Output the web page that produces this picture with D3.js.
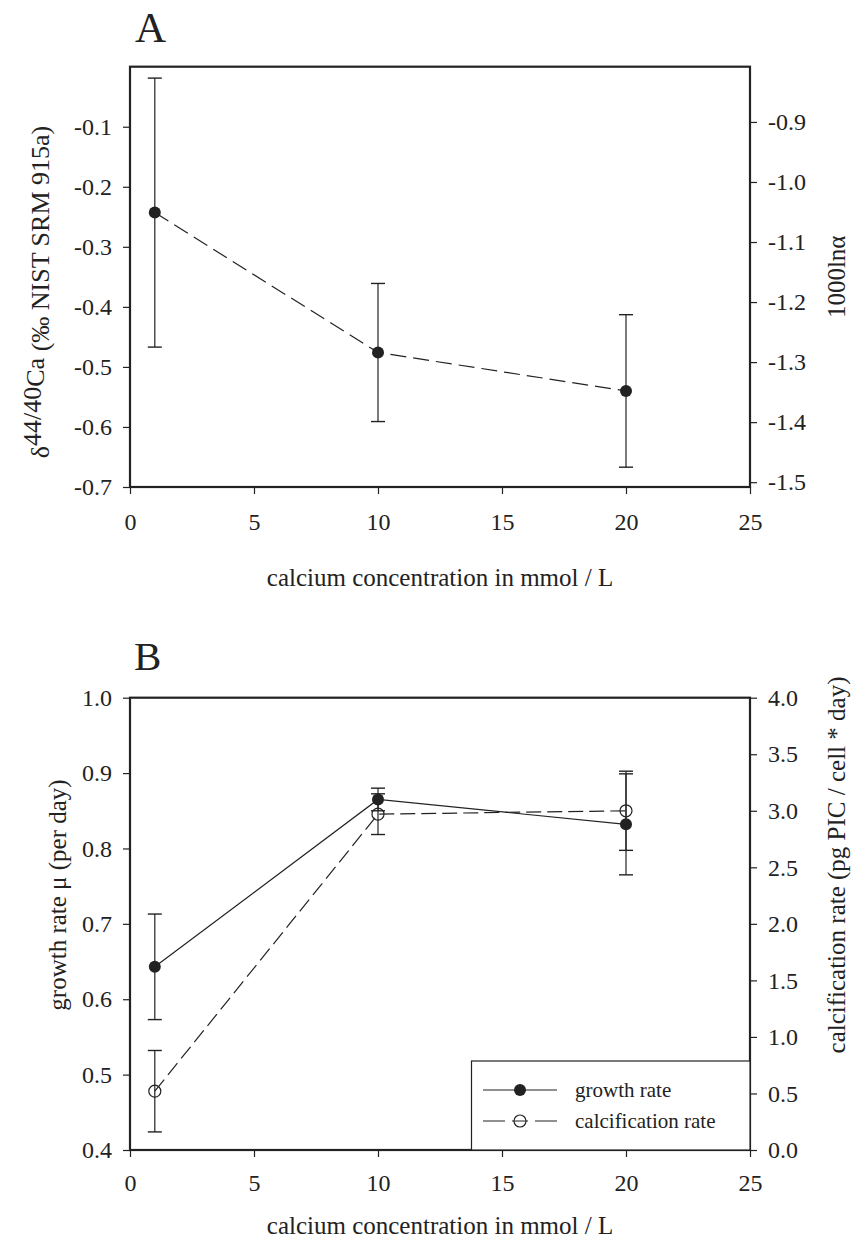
<!DOCTYPE html>
<html>
<head>
<meta charset="utf-8">
<script src="https://cdn.jsdelivr.net/npm/d3@7"></script>
</head>
<body style="margin:0;background:#fff">
<svg id="chart" width="860" height="1240"></svg>
<script>
// ---------- data ----------
const xTicks = [0, 5, 10, 15, 20, 25];

// Panel A
const concA = [1, 10, 20];
const deltaCa = [-0.243, -0.476, -0.540];
const deltaErr = [0.224, 0.115, 0.127];
const leftTicksA = [-0.7, -0.6, -0.5, -0.4, -0.3, -0.2, -0.1];
const rightTicksA = [-1.5, -1.4, -1.3, -1.2, -1.1, -1.0, -0.9];

// Panel B
const concB = [1, 10, 20];
const growth = [0.643, 0.865, 0.832];
const growthErr = [0.070, 0.015, 0.067];
const calc = [0.52, 2.97, 3.0];
const calcErr = [0.36, 0.18, 0.35];
const leftTicksB = [0.4, 0.5, 0.6, 0.7, 0.8, 0.9, 1.0];
const rightTicksB = [0.0, 0.5, 1.0, 1.5, 2.0, 2.5, 3.0, 3.5, 4.0];
const legendLabels = ["growth rate", "calcification rate"];

// ---------- layout ----------
const FONT = '"Liberation Serif", monospace';
const svg = d3.select("#chart");
const X0 = 130, X1 = 750;
const ink = "#222";
const FS = 24;   // tick labels
const LS = 25;   // axis titles

const x = d3.scaleLinear().domain([0, 25]).range([X0, X1]);

function drawFrame(top, bottom, yL, yR, ticksL, ticksR, fmtL, fmtR, padX) {
  const g = svg.append("g");
  const ax = g.append("g").attr("transform", `translate(0,${bottom})`)
    .call(d3.axisBottom(x).tickValues(xTicks).tickSize(7).tickPadding(padX).tickFormat(d3.format("d")));
  const al = g.append("g").attr("transform", `translate(${X0},0)`)
    .call(d3.axisLeft(yL).tickValues(ticksL).tickSize(7).tickPadding(11).tickFormat(fmtL));
  const ar = g.append("g").attr("transform", `translate(${X1},0)`)
    .call(d3.axisRight(yR).tickValues(ticksR).tickSize(7).tickPadding(11).tickFormat(fmtR));
  [ax, al, ar].forEach(a => {
    a.attr("font-family", null).attr("font-size", null);
    a.select(".domain").remove();
    a.selectAll(".tick line").attr("stroke", ink).attr("stroke-width", 1.2);
    a.selectAll(".tick text").attr("font-size", FS).attr("fill", ink).style("font-family", FONT);
  });
  g.append("rect").attr("x", X0).attr("y", top).attr("width", X1 - X0).attr("height", bottom - top)
    .attr("fill", "none").attr("stroke", ink).attr("stroke-width", 2.2);
  return g;
}

const fmt1 = d => d3.format(".1f")(d).replace("−", "-");
const cap = 7;

function errBars(g, xs, vals, errs, ys) {
  xs.forEach((c, i) => {
    const cx = x(c), y1 = ys(vals[i] - errs[i]), y2 = ys(vals[i] + errs[i]);
    g.append("line").attr("x1", cx).attr("x2", cx).attr("y1", y1).attr("y2", y2).attr("stroke", ink).attr("stroke-width", 1.2);
    [y1, y2].forEach(yy => g.append("line").attr("x1", cx - cap).attr("x2", cx + cap).attr("y1", yy).attr("y2", yy).attr("stroke", ink).attr("stroke-width", 1.4));
  });
}

function txt(xp, yp, t, size, anchor) {
  const e = svg.append("text").attr("x", xp).attr("y", yp).attr("font-size", size)
    .attr("fill", ink).style("font-family", FONT).text(t);
  if (anchor) e.attr("text-anchor", anchor);
  return e;
}
function vtxt(cx, cy, size) {
  return svg.append("text").attr("transform", `translate(${cx},${cy}) rotate(-90)`)
    .attr("text-anchor", "middle").attr("dominant-baseline", "central").attr("font-size", size)
    .attr("fill", ink).style("font-family", FONT);
}

// ================= Panel A =================
const topA = 66.7, botA = 487;
const yA = d3.scaleLinear().domain([-0.7, 0.0]).range([botA, topA]);
const yA2 = d3.scaleLinear().domain([-1.508, -0.808]).range([botA, topA]);
drawFrame(topA, botA, yA, yA2, leftTicksA, rightTicksA, fmt1, fmt1, 19);

txt(135, 42, "A", 43);

const gA = svg.append("g");
errBars(gA, concA, deltaCa, deltaErr, yA);
gA.append("path").datum(concA.map((c, i) => [c, deltaCa[i]]))
  .attr("d", d3.line().x(d => x(d[0])).y(d => yA(d[1])))
  .attr("fill", "none").attr("stroke", ink).attr("stroke-width", 1.2).attr("stroke-dasharray", "16,7");
gA.selectAll("circle").data(concA).join("circle")
  .attr("cx", d => x(d)).attr("cy", (d, i) => yA(deltaCa[i])).attr("r", 6).attr("fill", ink);

txt(X0 + (X1 - X0) / 2, botA + 99, "calcium concentration in mmol / L", LS, "middle");
const lblA = vtxt(40, 292, 26);
lblA.append("tspan").text("δ");
lblA.append("tspan").attr("dy", -8).text("44/40");
lblA.append("tspan").attr("dy", 3).text("Ca");
lblA.append("tspan").attr("dy", 5).text(" (‰ NIST SRM 915a)");
vtxt(836, (topA + botA) / 2, LS).text("1000lnα");

// ================= Panel B =================
const topB = 697.7, botB = 1150;
const yB = d3.scaleLinear().domain([0.4, 1.0]).range([botB, topB]);
const yB2 = d3.scaleLinear().domain([0, 4]).range([botB, topB]);
drawFrame(topB, botB, yB, yB2, leftTicksB, rightTicksB, fmt1, fmt1, 17);

txt(134, 670, "B", 41);

const gB = svg.append("g");
errBars(gB, concB, growth, growthErr, yB);
errBars(gB, concB, calc, calcErr, yB2);

gB.append("path").datum(concB.map((c, i) => [c, calc[i]]))
  .attr("d", d3.line().x(d => x(d[0])).y(d => yB2(d[1])))
  .attr("fill", "none").attr("stroke", ink).attr("stroke-width", 1.2).attr("stroke-dasharray", "15,6");
gB.append("path").datum(concB.map((c, i) => [c, growth[i]]))
  .attr("d", d3.line().x(d => x(d[0])).y(d => yB(d[1])))
  .attr("fill", "none").attr("stroke", ink).attr("stroke-width", 1.2);
gB.selectAll("circle.calc").data(concB).join("circle").attr("class", "calc")
  .attr("cx", d => x(d)).attr("cy", (d, i) => yB2(calc[i])).attr("r", 6)
  .attr("fill", "none").attr("stroke", ink).attr("stroke-width", 1.2);
gB.selectAll("circle.gr").data(concB).join("circle").attr("class", "gr")
  .attr("cx", d => x(d)).attr("cy", (d, i) => yB(growth[i])).attr("r", 6).attr("fill", ink);

// legend
const lg = svg.append("g");
lg.append("rect").attr("x", 471.5).attr("y", 1061).attr("width", X1 - 471.5).attr("height", botB - 1061)
  .attr("fill", "#fff").attr("stroke", ink).attr("stroke-width", 1.2);
const rows = [1090, 1121];
lg.append("line").attr("x1", 483).attr("x2", 557).attr("y1", rows[0]).attr("y2", rows[0]).attr("stroke", ink).attr("stroke-width", 1.2);
lg.append("circle").attr("cx", 520).attr("cy", rows[0]).attr("r", 6).attr("fill", ink);
lg.append("line").attr("x1", 483).attr("x2", 557).attr("y1", rows[1]).attr("y2", rows[1]).attr("stroke", ink).attr("stroke-width", 1.2).attr("stroke-dasharray", "22,7,16,7,22");
lg.append("circle").attr("cx", 520).attr("cy", rows[1]).attr("r", 6).attr("fill", "none").attr("stroke", ink).attr("stroke-width", 1.2);
legendLabels.forEach((t, i) => txt(575, rows[i], t, 21).attr("dominant-baseline", "central"));

txt(X0 + (X1 - X0) / 2, botB + 84, "calcium concentration in mmol / L", LS, "middle");
vtxt(57, 895, LS).text("growth rate μ (per day)");
vtxt(836, 865, LS).text("calcification rate (pg PIC / cell * day)");
</script>
</body>
</html>
